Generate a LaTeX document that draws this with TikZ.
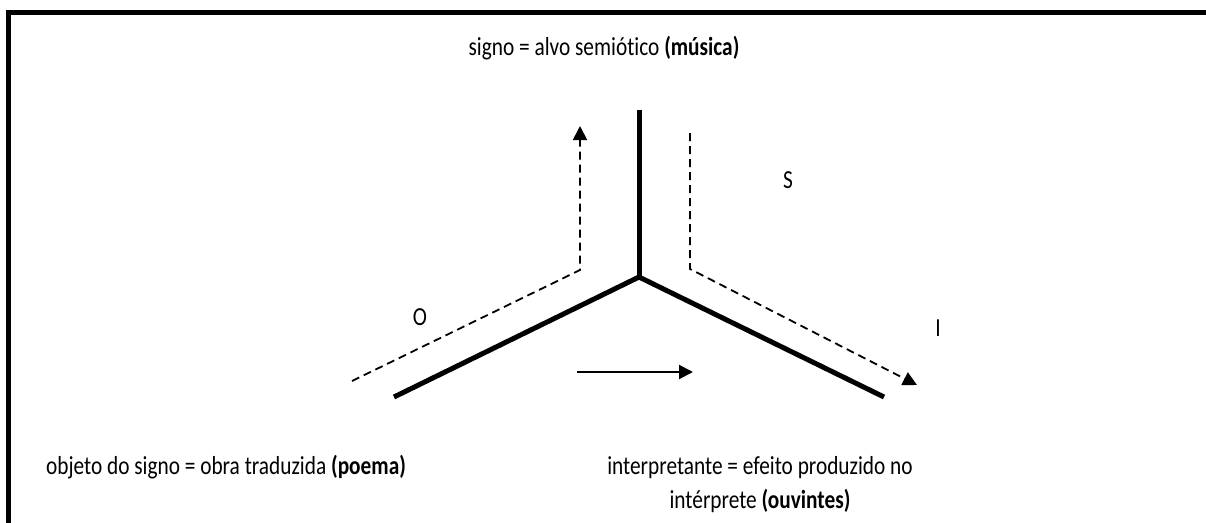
\documentclass[tikz,border=0pt]{standalone}
\usepackage{fontspec}
\setmainfont[Ligatures=NoCommon,FakeStretch=0.82]{Carlito}
\usetikzlibrary{arrows.meta}
\begin{document}
\begin{tikzpicture}[x=1pt,y=-1pt,
  thick line/.style={line width=5pt},
  dash line/.style={line width=1.8pt,dash pattern=on 8pt off 5pt},
  tip/.style={-{Triangle[length=14pt,width=14pt]}},
  lbl/.style={font=\fontsize{26}{30}\selectfont,inner sep=0pt,anchor=base}]
\useasboundingbox (0,0) rectangle (1206,522);
\draw[line width=5pt] (8.5,530) -- (8.5,12.5) -- (1215,12.5);
% main Y
\coordinate (C) at (639,277);
\coordinate (T) at (639,110);
\coordinate (L) at (394,397);
\coordinate (R) at (884,397);
\draw[thick line] (T) -- (C);
\draw[thick line] (L) -- (C) -- (R);
% dashed arrows
\coordinate (lo) at (352,381);
\coordinate (lc) at (580,270);
\coordinate (lt) at (580,126);
\draw[dash line,tip] (lo) -- (lc) -- (lt);
\coordinate (ro) at (690,133);
\coordinate (rc) at (690,269);
\coordinate (rt) at (917,385);
\draw[dash line,tip] (ro) -- (rc) -- (rt);
% horizontal arrow
\coordinate (ha) at (577,372);
\coordinate (hb) at (693,372);
\draw[line width=2pt,tip] (ha) -- (hb);
% labels
\node[lbl] (O) at (420,325) {O};
\node[lbl] (S) at (788,188) {S};
\node[lbl] (I) at (938,336) {I};
\node[lbl] (top) at (604,55) {signo = alvo semiótico \textbf{(música)}};
\node[lbl] (obj) at (226,474) {objeto do signo = obra traduzida \textbf{(poema)}};
\node[lbl] (int1) at (760,474) {interpretante = efeito produzido no};
\node[lbl] (int2) at (760,508) {intérprete \textbf{(ouvintes)}};
\end{tikzpicture}
\end{document}
